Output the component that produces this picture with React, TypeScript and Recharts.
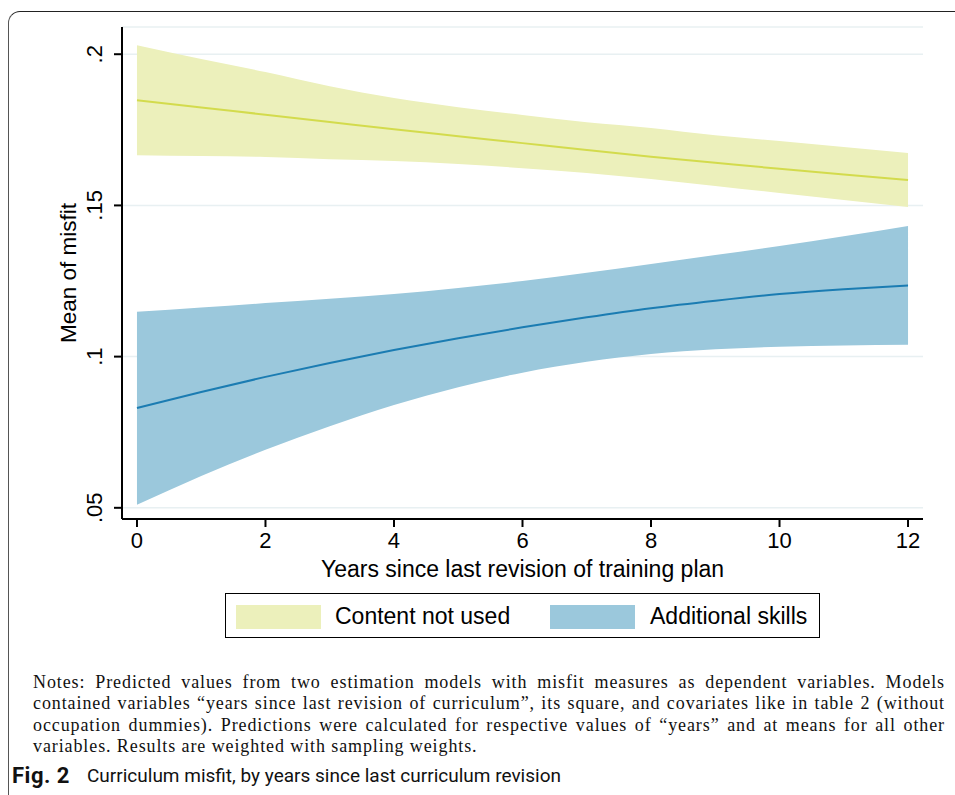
import { ComposedChart, Area, Line, XAxis, YAxis, CartesianGrid } from "recharts";

// years since last revision
const years = [0, 1, 2, 3, 4, 5, 6, 7, 8, 9, 10, 11, 12];

// Content not used: prediction and CI band
const contentMean = [0.1848, 0.1824, 0.18, 0.1776, 0.1752, 0.1729, 0.1706, 0.1683, 0.1661, 0.1641, 0.1621, 0.1602, 0.1584];
const contentHigh = [0.203, 0.1984, 0.1941, 0.1894, 0.1855, 0.1825, 0.1799, 0.1775, 0.1756, 0.1732, 0.1713, 0.1693, 0.1673];
const contentLow = [0.1666, 0.1663, 0.166, 0.1653, 0.1647, 0.1637, 0.1623, 0.1607, 0.1587, 0.1564, 0.1541, 0.1518, 0.1495];

// Additional skills: prediction and CI band
const skillsMean = [0.083, 0.0883, 0.0933, 0.0979, 0.1022, 0.1061, 0.1097, 0.113, 0.116, 0.1185, 0.1207, 0.1223, 0.1235];
const skillsHigh = [0.1148, 0.1162, 0.1177, 0.1191, 0.1207, 0.1227, 0.125, 0.1277, 0.1306, 0.1336, 0.1366, 0.1398, 0.1432];
const skillsLow = [0.051, 0.0605, 0.0692, 0.077, 0.084, 0.0899, 0.0947, 0.0983, 0.1009, 0.1024, 0.1033, 0.1037, 0.1039];

const xTicks = [0, 2, 4, 6, 8, 10, 12];
const yTicks = [0.05, 0.1, 0.15, 0.2];
const yTickLabels = [".05", ".1", ".15", ".2"];

const noteLines = [
	"Notes: Predicted values from two estimation models with misfit measures as dependent variables. Models",
	"contained variables \u201cyears since last revision of curriculum\u201d, its square, and covariates like in table 2 (without",
	"occupation dummies). Predictions were calculated for respective values of \u201cyears\u201d and at means for all other",
	"variables. Results are weighted with sampling weights.",
];

const YELLOW_FILL = "#ecf0bb";
const YELLOW_LINE = "#d3db4d";
const BLUE_FILL = "#9bc8dc";
const BLUE_LINE = "#1b7cb2";

const data = years.map((year, i) => ({
	year,
	contentBand: [contentLow[i], contentHigh[i]],
	contentMean: contentMean[i],
	skillsBand: [skillsLow[i], skillsHigh[i]],
	skillsMean: skillsMean[i],
}));

const font = "'Liberation Sans', Arial, sans-serif";

// rotated y tick like stata draws them
const YTick = (props: any) => {
	const { x, y, payload } = props;
	const idx = yTicks.indexOf(payload.value);
	const label = idx >= 0 ? yTickLabels[idx] : String(payload.value);
	return (
		<text
			x={x}
			y={y}
			dy={-8}
			transform={`rotate(-90 ${x} ${y})`}
			textAnchor="middle"
			fill="#000"
			fontSize={22}
			fontFamily={font}
		>
			{label}
		</text>
	);
};

export default function App() {
	return (
		<div
			style={{
				position: "absolute",
				left: 0,
				top: 0,
				width: 955,
				height: 795,
				overflow: "hidden",
				background: "#fff",
			}}
		>
			{/* panel frame */}
			<div
				style={{
					position: "absolute",
					left: 8,
					top: 11,
					width: 1000,
					height: 900,
					borderTop: "1.5px solid #222",
					borderLeft: "1px solid #555",
					borderTopLeftRadius: 12,
				}}
			/>
			<div style={{ position: "absolute", left: 0, top: 0 }}>
				<ComposedChart
					width={955}
					height={600}
					data={data}
					margin={{ top: 27, right: 32, left: 62, bottom: 19 }}
				>
					<CartesianGrid
						horizontal
						vertical={false}
						stroke="#e8f0f2"
						strokeWidth={1.5}
					/>
					<XAxis
						dataKey="year"
						type="number"
						domain={[-0.233, 12.233]}
						allowDataOverflow
						ticks={xTicks}
						height={62}
						tickSize={8}
						tickMargin={5}
						stroke="#000"
						strokeWidth={2}
						tick={{ fill: "#000", fontSize: 22, fontFamily: font }}
						label={{
							value: "Years since last revision of training plan",
							position: "insideBottom",
							offset: 4,
							fill: "#000",
							fontSize: 23,
							fontFamily: font,
						}}
					/>
					<YAxis
						type="number"
						domain={[0.0463, 0.209]}
						allowDataOverflow
						ticks={yTicks}
						width={60}
						tickSize={8}
						tickMargin={4}
						stroke="#000"
						strokeWidth={2}
						tick={<YTick />}
						label={{
							value: "Mean of misfit",
							angle: -90,
							position: "insideLeft",
							offset: 6,
							fill: "#000",
							fontSize: 22.5,
							fontFamily: font,
							style: { textAnchor: "middle" },
						}}
					/>
					<Area
						dataKey="contentBand"
						type="monotone"
						stroke="none"
						fill={YELLOW_FILL}
						fillOpacity={1}
						isAnimationActive={false}
						activeDot={false}
					/>
					<Area
						dataKey="skillsBand"
						type="monotone"
						stroke="none"
						fill={BLUE_FILL}
						fillOpacity={1}
						isAnimationActive={false}
						activeDot={false}
					/>
					<Line
						dataKey="contentMean"
						type="monotone"
						stroke={YELLOW_LINE}
						strokeWidth={2}
						dot={false}
						isAnimationActive={false}
					/>
					<Line
						dataKey="skillsMean"
						type="monotone"
						stroke={BLUE_LINE}
						strokeWidth={2}
						dot={false}
						isAnimationActive={false}
					/>
				</ComposedChart>
			</div>

			{/* legend */}
			<div
				style={{
					position: "absolute",
					left: 225,
					top: 593,
					width: 595,
					height: 45,
					border: "1px solid #000",
					boxSizing: "border-box",
					fontFamily: font,
					fontSize: 23,
				}}
			>
				<div style={{ position: "absolute", left: 10, top: 11, width: 85, height: 24, background: YELLOW_FILL }} />
				<div style={{ position: "absolute", left: 109, top: 9, lineHeight: "26px" }}>Content not used</div>
				<div style={{ position: "absolute", left: 324, top: 11, width: 85, height: 24, background: BLUE_FILL }} />
				<div style={{ position: "absolute", left: 424, top: 9, lineHeight: "26px" }}>Additional skills</div>
			</div>

			{/* notes */}
			<div
				style={{
					position: "absolute",
					left: 33,
					top: 672,
					width: 912,
					fontFamily: "'Liberation Serif', 'Times New Roman', serif",
					fontSize: 18,
					letterSpacing: 0.9,
					lineHeight: "21.4px",
					color: "#111",
				}}
			>
				{noteLines.map((line, i) => (
					<div
						key={i}
						style={{
							textAlign: "justify",
							textAlignLast: i < noteLines.length - 1 ? "justify" : "left",
							whiteSpace: "nowrap",
						}}
					>
						{line}
					</div>
				))}
			</div>

			{/* caption */}
			<div
				style={{
					position: "absolute",
					left: 12,
					top: 763,
					fontFamily: "Roboto, 'Noto Sans', sans-serif",
					fontSize: 19,
					lineHeight: "26px",
					color: "#111",
					whiteSpace: "nowrap",
				}}
			>
				<span style={{ fontWeight: 700, fontSize: 22, letterSpacing: 0.5 }}>Fig. 2</span>
				<span style={{ position: "absolute", left: 75, top: 0 }}>
					Curriculum misfit, by years since last curriculum revision
				</span>
			</div>
		</div>
	);
}
